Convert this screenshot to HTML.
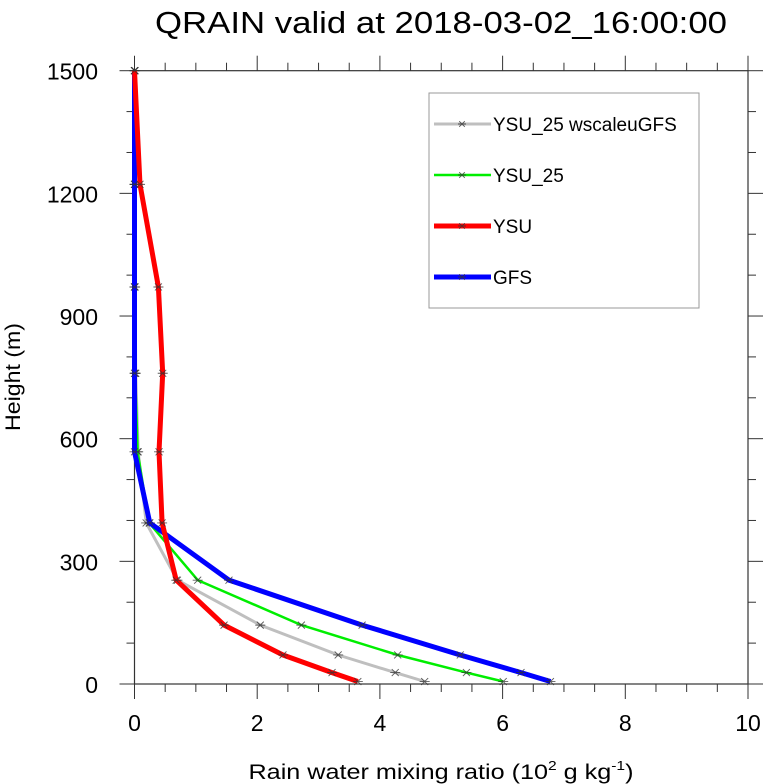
<!DOCTYPE html>
<html><head><meta charset="utf-8"><style>
html,body{margin:0;padding:0;background:#fff;}
svg{display:block;font-family:"Liberation Sans",sans-serif;}
</style></head><body>
<svg id="chart" width="766" height="784" viewBox="0 0 766 784">
<text x="441" y="33" font-size="31" text-anchor="middle" textLength="572" lengthAdjust="spacingAndGlyphs">QRAIN valid at 2018-03-02_16:00:00</text>
<g id="axes"></g>
<g id="series"></g>
<text transform="translate(20,377) rotate(-90)" font-size="21" text-anchor="middle" textLength="108" lengthAdjust="spacingAndGlyphs">Height (m)</text>
<text x="441" y="779" font-size="21" text-anchor="middle" textLength="385" lengthAdjust="spacingAndGlyphs">Rain water mixing ratio (10<tspan font-size="13" dy="-9">2</tspan><tspan dy="9"> g kg</tspan><tspan font-size="13" dy="-9">-1</tspan><tspan dy="9">)</tspan></text>
<g id="legend"></g>
</svg>
<script>
const heights = [1500, 1222, 971, 760, 568, 394, 254, 144, 71, 28, 6];
const seriesNames = ["YSU_25 wscaleuGFS", "YSU_25", "GFS", "YSU"];
const graySeries = [0.01, 0.01, 0.01, 0.02, 0.06, 0.19, 0.70, 2.05, 3.32, 4.25, 4.73];
const greenSeries = [0.0, 0.0, 0.0, 0.01, 0.05, 0.24, 1.03, 2.72, 4.29, 5.41, 6.01];
const blueSeries = [0.0, 0.0, 0.0, 0.0, 0.0, 0.25, 1.54, 3.71, 5.31, 6.30, 6.78];
const redSeries = [0.0, 0.09, 0.39, 0.46, 0.40, 0.45, 0.68, 1.46, 2.42, 3.22, 3.64];
const xTicks = [0, 2, 4, 6, 8, 10];
const yTicks = [0, 300, 600, 900, 1200, 1500];

const NS = "http://www.w3.org/2000/svg";
const X0 = 134.5, X1 = 748, Y0 = 684, Y1 = 70.7;
const xs = v => X0 + (v / 10) * (X1 - X0);
const ys = v => Y0 - (v / 1500) * (Y0 - Y1);
function mk(tag, attrs, parent) { const e = document.createElementNS(NS, tag); for (const k in attrs) e.setAttribute(k, attrs[k]); parent.appendChild(e); return e; }

const axes = document.getElementById("axes");
const frame = mk("rect", {x: X0, y: Y1, width: X1 - X0, height: Y0 - Y1, fill: "none", stroke: "#333", "stroke-width": 1.2}, axes);


// x ticks
for (let v = 0; v <= 10.001; v += 0.5) {
  const major = Math.abs(v - Math.round(v / 2) * 2) < 1e-6;
  const L = major ? 15 : 8;
  mk("line", {x1: xs(v), x2: xs(v), y1: Y0, y2: Y0 + L, stroke: "#333", "stroke-width": 1}, axes);
  mk("line", {x1: xs(v), x2: xs(v), y1: Y1, y2: Y1 - L, stroke: "#333", "stroke-width": 1}, axes);
}
for (let v = 0; v <= 1500; v += 100) {
  const major = v % 300 === 0;
  const L = major ? 15 : 8;
  mk("line", {x1: X0, x2: X0 - L, y1: ys(v), y2: ys(v), stroke: "#333", "stroke-width": 1}, axes);
  mk("line", {x1: X1, x2: X1 + L, y1: ys(v), y2: ys(v), stroke: "#333", "stroke-width": 1}, axes);
}
xTicks.forEach(v => {
  const t = mk("text", {x: xs(v), y: 731, "font-size": 23, "text-anchor": "middle"}, axes);
  t.textContent = v;
  
  
});
yTicks.forEach(v => {
  const t = mk("text", {x: 98, y: ys(v) + 9, "font-size": 23, "text-anchor": "end"}, axes);
  t.textContent = v;
  
  
});

function marker(g, cx, cy, r) {
  const p = mk("path", {d: `M${cx - r},${cy}H${cx + r}M${cx - r * .7},${cy - r * .7}L${cx + r * .7},${cy + r * .7}M${cx - r * .7},${cy + r * .7}L${cx + r * .7},${cy - r * .7}`, stroke: "#333", "stroke-width": 0.9, fill: "none", opacity: 0.8}, g);
  return p;
}
const ser = document.getElementById("series");
const defs = [
  {data: graySeries, color: "#bfbfbf", w: 3, name: "series-ysu25-wscaleugfs"},
  {data: greenSeries, color: "#00ee00", w: 2.5, name: "series-ysu25"},
  {data: blueSeries, color: "#0000ff", w: 5, name: "series-gfs"},
  {data: redSeries, color: "#ff0000", w: 5, name: "series-ysu"}
];
defs.forEach(d => {
  const g = mk("g", {}, ser);
  
  
  const pts = d.data.map((v, i) => xs(v).toFixed(1) + "," + ys(heights[i]).toFixed(1)).join(" ");
  const pl = mk("polyline", {points: pts, fill: "none", stroke: d.color, "stroke-width": d.w, "stroke-linejoin": "round"}, g);
  
  
  d.data.forEach((v, i) => {
    const m = marker(g, xs(v), ys(heights[i]), 5);
    
    
  });
});

const lg = document.getElementById("legend");
const box = mk("rect", {x: 429, y: 93, width: 270, height: 215, fill: "#fff", stroke: "#999", "stroke-width": 1}, lg);


const legendItems = [
  {label: "YSU_25 wscaleuGFS", color: "#bfbfbf", w: 3, y: 124},
  {label: "YSU_25", color: "#00ee00", w: 2.5, y: 175},
  {label: "YSU", color: "#ff0000", w: 5, y: 226},
  {label: "GFS", color: "#0000ff", w: 5, y: 277}
];
legendItems.forEach(it => {
  const g = mk("g", {}, lg);
  
  
  mk("line", {x1: 434, x2: 491, y1: it.y, y2: it.y, stroke: it.color, "stroke-width": it.w}, g);
  marker(g, 462, it.y, 4);
  const t = mk("text", {x: 493, y: it.y + 7, "font-size": 19}, g);
  t.textContent = it.label;
});
</script>
</body></html>
